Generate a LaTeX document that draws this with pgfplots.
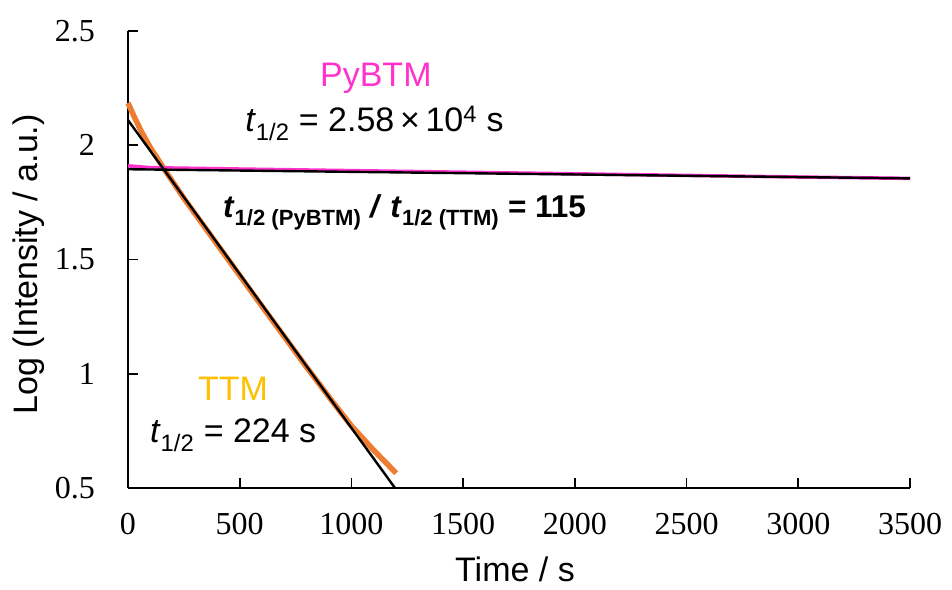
\documentclass[border=0pt]{standalone}
\usepackage{fontspec}
\setmainfont{Liberation Sans}
\newfontfamily\timesf{Liberation Serif}
\usepackage{pgfplots}
\pgfplotsset{compat=1.18}
\definecolor{pymag}{RGB}{255,51,204}
\definecolor{ttmor}{RGB}{237,125,49}
\definecolor{ttmtxt}{RGB}{255,192,0}
\begin{document}
\begin{tikzpicture}
\useasboundingbox (-128pt,-101pt) rectangle (824pt,488pt);
\begin{axis}[
  at={(0,0)}, anchor=south west,
  scale only axis, width=782pt, height=457pt,
  xmin=0, xmax=3500, ymin=0.5, ymax=2.5,
  axis lines=left,
  axis line style={-, line width=1.6pt},
  tick style={line width=1.6pt, black},
  major tick length=10pt,
  tick align=inside,
  xtick={0,500,...,3500},
  ytick={0.5,1,1.5,2,2.5},
  yticklabels={0.5,1,1.5,2,2.5},
  scaled ticks=false,
  /pgf/number format/assume math mode=true,
  /pgf/number format/1000 sep={},
  ticklabel style={font=\timesf\fontsize{32}{38}\selectfont, inner sep=0pt},
  yticklabel style={xshift=-33pt},
  xticklabel style={yshift=-25pt},
  label style={font=\fontsize{34}{40}\selectfont, inner sep=0pt},
  xlabel={Time / s},
  ylabel={Log (Intensity / a.u.)},
  xlabel style={at={(axis description cs:0.4949,-0.2035)}, anchor=base},
  ylabel style={at={(axis description cs:-0.1272,0.489)}, anchor=center},
  clip=false,
]
\addplot[ttmor, line width=5.5pt] coordinates {
(0,2.185)(30,2.12)(60,2.06)(100,1.99)(166,1.89)(250,1.768)(400,1.565)(600,1.295)(800,1.028)(920,0.872)(1000,0.772)(1100,0.665)(1200,0.565)};
\addplot[pymag, line width=3.5pt] coordinates {
(0,1.91)(100,1.902)(500,1.896)(1000,1.889)(1500,1.882)(2000,1.875)(2500,1.868)(3000,1.861)(3500,1.855)};
\addplot[black, line width=2.4pt] coordinates {(0,2.11)(1195,0.5)};
\addplot[black, line width=2.4pt] coordinates {(0,1.895)(3500,1.855)};
\node[anchor=base west, inner sep=0pt, text=pymag, font=\fontsize{34}{40}\selectfont] at (axis cs:859,2.255) {PyBTM};
\node[anchor=base west, inner sep=0pt, font=\fontsize{34}{40}\selectfont] at (axis cs:524,2.058) {\textit{t}\textsubscript{1/2} = 2.58\,×\,10\textsuperscript{4} s};
\node[anchor=base west, inner sep=0pt, font=\bfseries\fontsize{31.5}{38}\selectfont] at (axis cs:425,1.682) {\textit{t}\textsubscript{1/2 (PyBTM)} \textit{/} \textit{t}\textsubscript{1/2 (TTM)} = 115};
\node[anchor=base west, inner sep=0pt, text=ttmtxt, font=\fontsize{34}{40}\selectfont] at (axis cs:313,0.885) {TTM};
\node[anchor=base west, inner sep=0pt, font=\fontsize{34}{40}\selectfont] at (axis cs:98,0.697) {\textit{t}\textsubscript{1/2} = 224 s};
\end{axis}
\end{tikzpicture}
\end{document}
